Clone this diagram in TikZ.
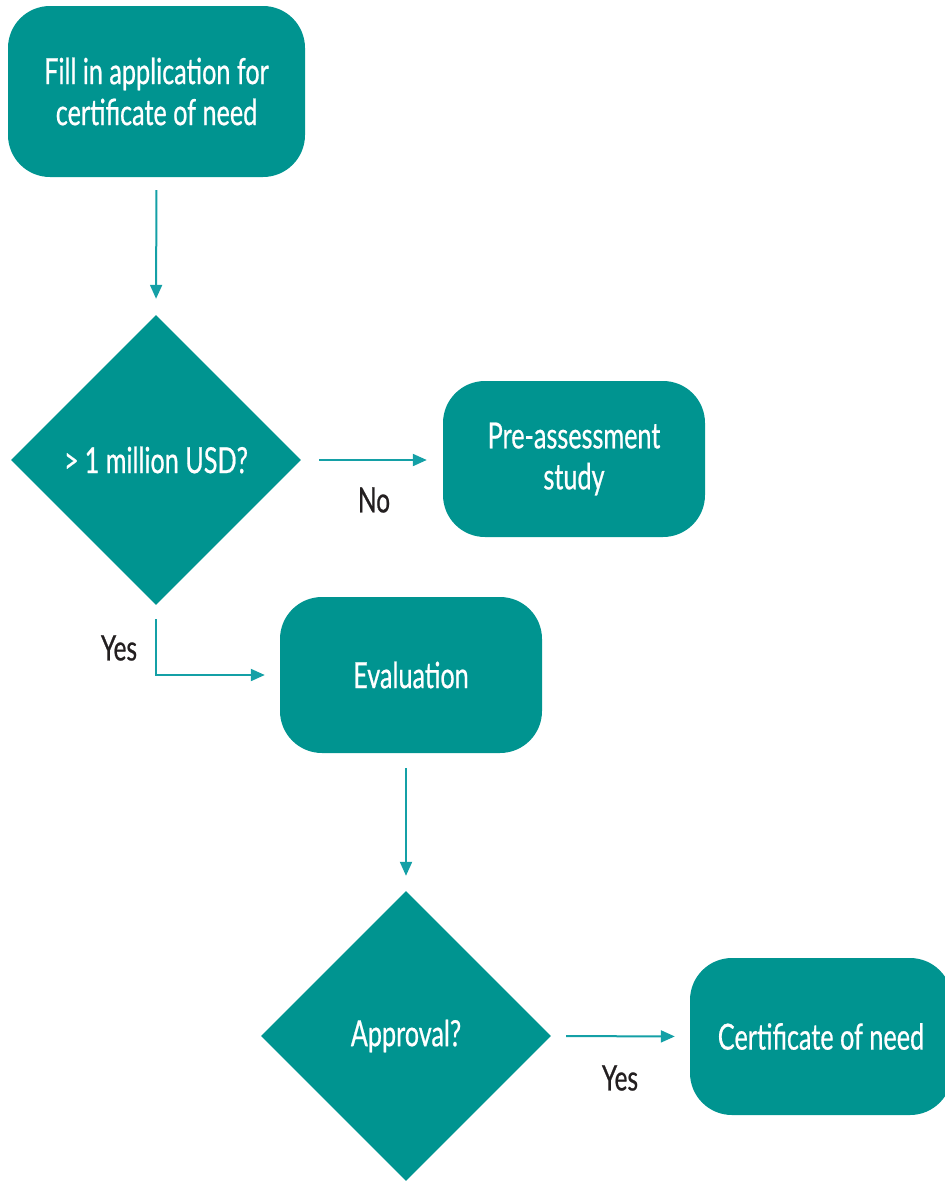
\documentclass[tikz,border=0pt]{standalone}
\usepackage{fontspec}
\setmainfont{Lato}[FakeStretch=0.7,FakeBold=0.6]
\usetikzlibrary{shapes.geometric,arrows.meta}
\definecolor{teal1}{HTML}{009490}
\definecolor{arrowc}{HTML}{14A0A6}
\definecolor{labc}{HTML}{231F20}
\begin{document}
\begin{tikzpicture}[x=1pt,y=-1pt,
  box/.style={draw=none,fill=teal1,rounded corners=42pt,text=white,align=center,
    font=\fontsize{36}{41}\selectfont,inner sep=0pt},
  dia/.style={diamond,draw=none,fill=teal1,text=white,minimum size=290pt,inner sep=0pt,
    aspect=1,font=\fontsize{36}{41}\selectfont},
  conn/.style={draw=arrowc,line width=2pt,-{Triangle[length=14pt,width=12pt]}},
  lab/.style={text=labc,font=\fontsize{35}{40}\selectfont,inner sep=0pt}]
\useasboundingbox (0,0) rectangle (945,1181);
\node[box,minimum width=297pt,minimum height=171pt] (b1) at (156.5,91.5)
  {Fill in application for\\certificate of need};
\node[dia] (d1) at (156,460) {>\,1 million USD?};
\node[box,minimum width=262pt,minimum height=156pt] (pre) at (574,459)
  {Pre-assessment\\study};
\node[box,minimum width=262pt,minimum height=156pt] (ev) at (411,675) {Evaluation};
\node[dia] (d2) at (406,1036) {Approval?};
\node[box,minimum width=262pt,minimum height=157pt] (cert) at (821,1036.5) {Certificate of need};
\draw[conn,shorten <=13pt,shorten >=16pt] (b1.south) -- (d1.north);
\draw[conn,shorten <=18pt,shorten >=16pt] (d1.east) -- (d1.east -| pre.west);
\draw[conn,shorten <=14pt,shorten >=15pt] (d1.south) |- (ev.west);
\draw[conn,shorten <=15pt,shorten >=15pt] (ev.south -| d2.north) -- (d2.north);
\draw[conn,shorten <=15pt,shorten >=15pt] (d2.east) -- (cert.west);
\node[lab] (no) at (374,500) {No};
\node[lab] (yes1) at (119,648) {Yes};
\node[lab] (yes2) at (620,1078) {Yes};
\end{tikzpicture}
\end{document}
